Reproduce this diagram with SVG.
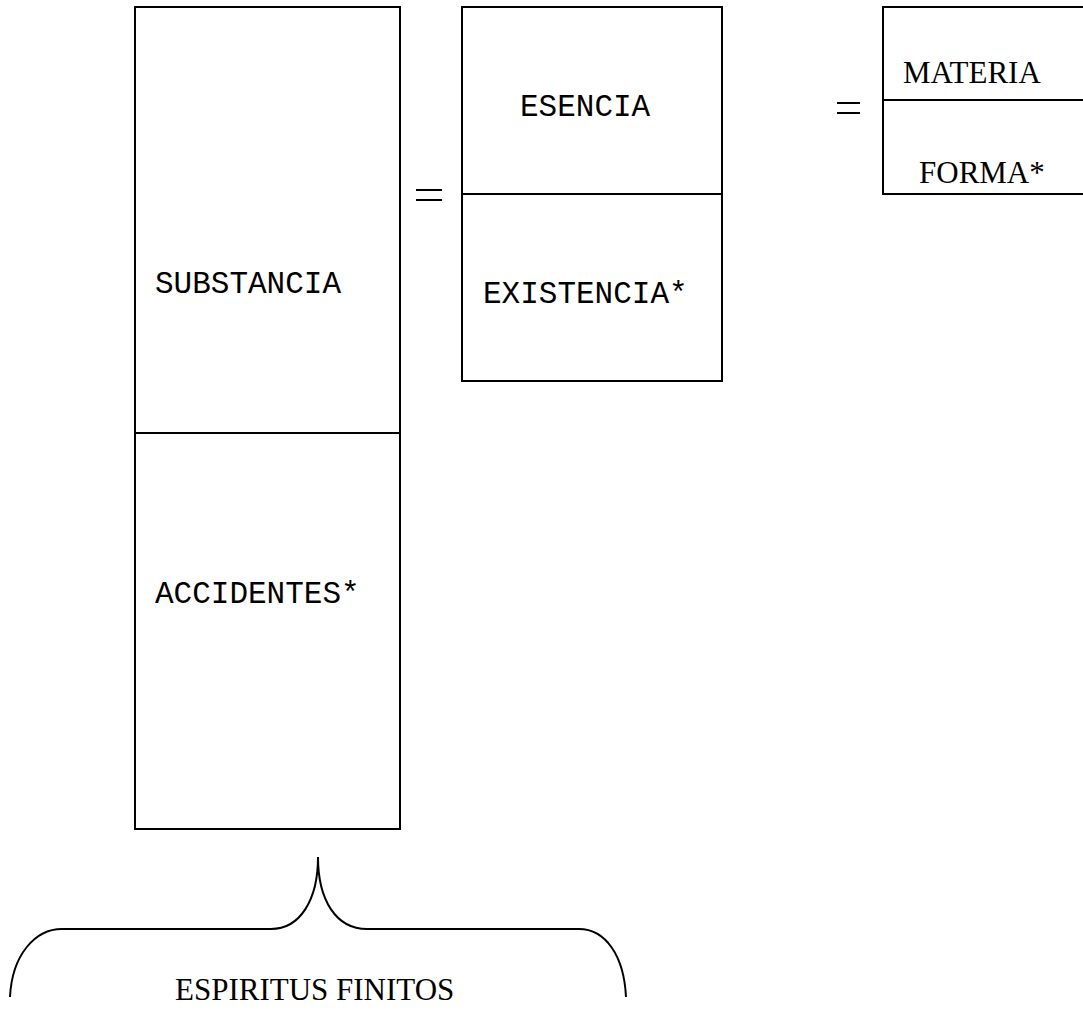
<svg xmlns="http://www.w3.org/2000/svg" width="1083" height="1011" viewBox="0 0 1083 1011">
<style>
.box{fill:#fff;stroke:#000;stroke-width:2}
.ln{stroke:#000;stroke-width:2;fill:none}
.mono{font-family:"Liberation Mono","Courier New",monospace;font-size:31px;fill:#000}
.serif{font-family:"Liberation Serif","Times New Roman",serif;font-size:31px;fill:#000}
</style>
<rect width="1083" height="1011" fill="#fff"/>
<g id="substancia-box">
<rect class="box" x="135" y="7" width="265" height="822"/>
<line class="ln" x1="135" y1="433" x2="400" y2="433"/>
<text class="mono" x="155" y="293">SUBSTANCIA</text>
<text class="mono" x="155" y="603">ACCIDENTES*</text>
</g>
<g id="esencia-box">
<rect class="box" x="462" y="7" width="260" height="374"/>
<line class="ln" x1="462" y1="194" x2="722" y2="194"/>
<text class="mono" x="520" y="116">ESENCIA</text>
<text class="mono" x="483" y="303">EXISTENCIA*</text>
</g>
<g id="materia-box">
<rect class="box" x="883" y="7" width="220" height="187"/>
<line class="ln" x1="883" y1="100" x2="1083" y2="100"/>
<text class="serif" x="903" y="83">MATERIA</text>
<text class="serif" x="919" y="183">FORMA*</text>
</g>
<g id="equals">
<line class="ln" x1="416" y1="190" x2="442" y2="190"/>
<line class="ln" x1="416" y1="200" x2="442" y2="200"/>
<line class="ln" x1="837" y1="103" x2="860" y2="103"/>
<line class="ln" x1="837" y1="113" x2="860" y2="113"/>
</g>
<g id="connectors">
<path class="ln" d="M 10 997 C 12 955, 35 929, 62 929 L 271 929 C 300 929, 318 900, 318 857"/>
<path class="ln" d="M 318 857 C 318 900, 336 929, 367 929 L 579 929 C 605 929, 624 955, 626 997"/>
</g>
<g id="espiritus-label">
<text class="serif" x="175" y="1000">ESPIRITUS FINITOS</text>
</g>
</svg>
